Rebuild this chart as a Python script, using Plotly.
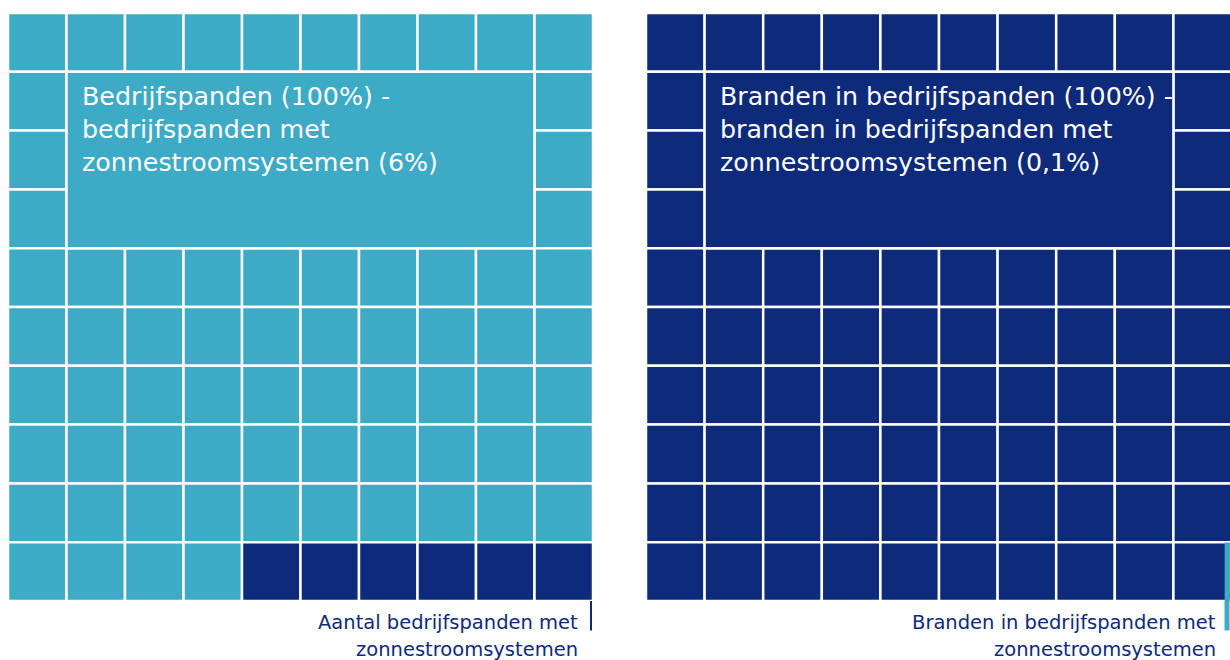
import plotly.graph_objects as go

# ---- data ----
grid_rows = 10
grid_cols = 10
panel_titles = [
    ["Bedrijfspanden (100%) -", "bedrijfspanden met", "zonnestroomsystemen (6%)"],
    ["Branden in bedrijfspanden (100%) -", "branden in bedrijfspanden met", "zonnestroomsystemen (0,1%)"],
]
panel_labels = [
    ["Aantal bedrijfspanden met", "zonnestroomsystemen"],
    ["Branden in bedrijfspanden met", "zonnestroomsystemen"],
]
highlight_pct = [6, 0.1]
LIGHT = "#3DAAC6"
NAVY = "#0D2A7B"
base_colors = [LIGHT, NAVY]
highlight_colors = [NAVY, LIGHT]
label_colors = [NAVY, NAVY]
connector_colors = [NAVY, LIGHT]
# merged text box (cell units): cols 1..8, rows 1..3
box_c0, box_c1, box_r0, box_r1 = 1, 9, 1, 4

W, H = 1230, 660
FONT = "DejaVu Sans"
fig = go.Figure()

# panel placement in pixels
grid_left = [8, 646]
grid_top, grid_bottom = 13, 601
cell_px = [58.5, 58.6]
grid_right = [grid_left[p] + grid_cols * cell_px[p] for p in range(2)]
domains_x = [[grid_left[p] / W, min(grid_right[p], W) / W] for p in range(2)]
ranges_x = [[0, (min(grid_right[p], W) - grid_left[p]) / cell_px[p]] for p in range(2)]
dom_y = [(H - grid_bottom) / H, (H - grid_top) / H]
cell_py = (grid_bottom - grid_top) / grid_rows

shapes = []
annotations = []
for p in range(2):
    xr = "x" if p == 0 else "x2"
    yr = "y" if p == 0 else "y2"
    n_cells = highlight_pct[p] * grid_rows * grid_cols / 100.0
    n_full = int(round(n_cells, 6))
    frac = n_cells - n_full
    total = grid_rows * grid_cols
    for r in range(grid_rows):
        for c in range(grid_cols):
            if box_c0 <= c < box_c1 and box_r0 <= r < box_r1:
                continue
            idx = r * grid_cols + c
            col = highlight_colors[p] if idx >= total - n_full else base_colors[p]
            shapes.append(dict(type="rect", xref=xr, yref=yr, x0=c, x1=c + 1, y0=r, y1=r + 1,
                               fillcolor=col, line=dict(color="white", width=2.5), layer="above"))
    # partial cell (fraction of a cell filled from the right)
    if frac > 0:
        pi = total - n_full - 1
        r, c = divmod(pi, grid_cols)
        shapes.append(dict(type="rect", xref=xr, yref=yr, x0=c + 1 - frac, x1=c + 1,
                           y0=r + 0.03, y1=r + 1, fillcolor=highlight_colors[p],
                           line=dict(color=highlight_colors[p], width=3), layer="above"))
    # merged box
    shapes.append(dict(type="rect", xref=xr, yref=yr, x0=box_c0, x1=box_c1, y0=box_r0, y1=box_r1,
                       fillcolor=base_colors[p], line=dict(color="white", width=2.5), layer="above"))
    # connector line below the grid (domain refs, so not clipped)
    cx_px = grid_left[p] + grid_cols * cell_px[p] - (2 if p == 0 else 5)
    cx_dom = (cx_px - grid_left[p]) / (min(grid_right[p], W) - grid_left[p])
    shapes.append(dict(type="line", xref=xr + " domain", yref=yr + " domain", x0=cx_dom, x1=cx_dom,
                       y0=0, y1=-0.5 / grid_rows,
                       line=dict(color=connector_colors[p], width=2 if p == 0 else 5), layer="above"))
    # title text, one annotation per line
    for i, line in enumerate(panel_titles[p]):
        ypx = grid_top + box_r0 * cell_py + 8.7 + i * 33
        annotations.append(dict(xref=xr, yref=yr, x=box_c0 + 0.23, y=(ypx - grid_top) / cell_py,
                                xanchor="left", yanchor="top", align="left", showarrow=False,
                                text=line, font=dict(family=FONT, size=25.3, color="white")))
    # bottom label, one annotation per line
    lx_px = [580, 1218][p]
    for i, line in enumerate(panel_labels[p]):
        ypx = 609 + i * 27
        annotations.append(dict(xref="paper", yref="paper", x=lx_px / W, y=(H - ypx) / H,
                                xanchor="right", yanchor="top", align="right", showarrow=False,
                                text=line,
                                font=dict(family=FONT, size=19.5, color=label_colors[p])))

fig.update_layout(
    width=W, height=H, margin=dict(l=0, r=0, t=0, b=0),
    paper_bgcolor="white", plot_bgcolor="white",
    shapes=shapes, annotations=annotations, showlegend=False,
    xaxis=dict(domain=domains_x[0], range=ranges_x[0], visible=False, fixedrange=True, anchor="y"),
    xaxis2=dict(domain=domains_x[1], range=ranges_x[1], visible=False, fixedrange=True, anchor="y2"),
    yaxis=dict(domain=dom_y, range=[grid_rows, 0], visible=False, fixedrange=True, anchor="x"),
    yaxis2=dict(domain=dom_y, range=[grid_rows, 0], visible=False, fixedrange=True, anchor="x2"),
)
fig.add_trace(go.Scatter(x=[None], y=[None], xaxis="x", yaxis="y", hoverinfo="skip"))
fig.add_trace(go.Scatter(x=[None], y=[None], xaxis="x2", yaxis="y2", hoverinfo="skip"))

fig.write_html("out.html", config={"displayModeBar": False},
               post_script="document.body.style.margin='0px';document.body.style.overflow='hidden';")
